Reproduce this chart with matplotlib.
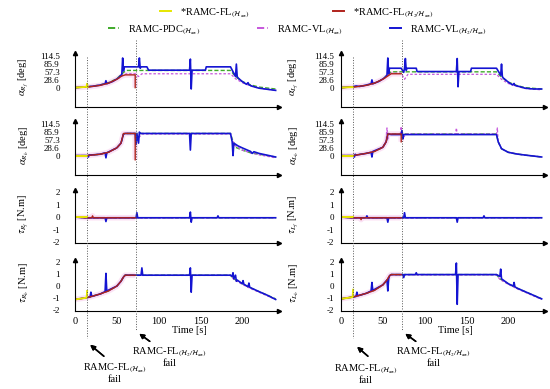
import numpy as np
import matplotlib
matplotlib.use("Agg")
import matplotlib.pyplot as plt
import matplotlib.transforms as mtransforms
from matplotlib.lines import Line2D

plt.rcParams['font.family'] = ['Liberation Serif', 'DejaVu Serif']
plt.rcParams['mathtext.fontset'] = 'stix'

#---failure instants [s]
t_fail_hinf = 14
t_fail_h2 = 73

#---alpha_Rf [deg]
t_arf_s = [0, 14, 20, 30, 40, 50, 58, 62, 72, 76, 80, 186, 192, 200, 210, 220, 240]
arf_pdc = [0, 2, 5, 10, 18, 32, 55, 62, 62, 62, 62, 62, 40, 22, 10, 2, -5]
arf_vl = [0, 2, 5, 10, 16, 30, 46, 50, 50, 40, 50, 50, 32, 18, 6, -2, -10]
t_arf_b = [0, 14, 18, 22, 30, 36, 37, 38, 45, 52, 56, 57, 58, 59, 76, 77, 78, 79, 86, 88,
           137, 138, 139, 140, 156, 157, 186, 192, 193, 194, 195, 200, 205, 207, 208, 212, 220, 240]
arf_vlh2 = [0, 3, 4, 5, 9, 14, 25, 14, 22, 35, 48, 107, 60, 75, 75, 107, 70, 75, 75, 63,
            63, 103, -5, 63, 63, 75, 75, 40, 85, 40, 35, 22, 12, 18, 10, 5, -2, -10]
t_arf_r = [0, 14, 20, 30, 40, 50, 56, 60, 72, 72]
arf_flh2 = [0, 2, 4, 8, 16, 30, 42, 46, 46, 0]
t_arf_y = [0, 5, 10, 14, 14.5, 15]
arf_flhinf = [0, 1, 2, 3, 14, 3]

#---alpha_Rb [deg]
t_arb_s = [0, 14, 20, 30, 40, 50, 55, 58, 60, 72, 75, 80, 186, 188, 192, 200, 210, 220, 240]
arb_pdc = [0, 0, 2, 5, 12, 28, 45, 78, 80, 80, 80, 80, 80, 60, 30, 20, 10, 5, -5]
arb_vl = [0, 0, 2, 5, 12, 28, 45, 78, 80, 80, 60, 78, 78, 55, 35, 20, 10, 3, -8]
t_arb_b = [0, 14, 16, 17, 18, 30, 36, 37, 38, 50, 55, 58, 60, 72, 73, 74, 76, 77, 78, 137,
           138, 139, 186, 188, 189, 190, 195, 200, 210, 212, 214, 220, 240]
arb_vlh2 = [0, 0, -5, 3, 2, 5, 10, -8, 10, 28, 45, 78, 80, 80, 40, 80, 45, 85, 80, 80,
            20, 80, 80, 50, 0, 45, 35, 28, 15, 8, 14, 8, -5]
t_arb_r = [0, 14, 20, 30, 40, 50, 55, 58, 72, 72]
arb_flh2 = [0, 0, 2, 5, 12, 28, 45, 80, 80, -15]
t_arb_y = [0, 14]
arb_flhinf = [-3, -3]

#---tau_Rf [N.m]
t_trf_s = [0, 14, 72, 186, 240]
trf_pdc = [0, -0.05, -0.05, -0.05, -0.05]
trf_vl = [0, -0.08, -0.08, -0.05, -0.05]
t_trf_b = [0, 14, 36, 37, 38, 73, 74, 75, 137, 138, 139, 140, 170, 171, 172, 240]
trf_vlh2 = [0, -0.05, -0.05, -0.35, -0.05, -0.05, 0.35, -0.05, -0.05, 0.4, -0.4, -0.05,
            -0.05, 0.1, -0.05, -0.05]
t_trf_r = [0, 14, 20, 21, 22, 72]
trf_flh2 = [0, -0.05, -0.05, 0.1, -0.05, -0.05]
t_trf_y = [0, 14]
trf_flhinf = [0, 0]

#---tau_Rb [N.m]
t_trb_s = [0, 14, 20, 30, 40, 50, 55, 58, 60, 186, 190, 200, 210, 220, 230, 240]
trb_pdc = [-1.1, -0.95, -0.85, -0.65, -0.4, 0, 0.4, 0.75, 0.9, 0.9, 0.6, 0.2, -0.15, -0.45, -0.75, -1.05]
trb_vl = [-1.1, -0.95, -0.85, -0.65, -0.4, 0, 0.4, 0.75, 0.88, 0.88, 0.55, 0.15, -0.2, -0.5, -0.8, -1.1]
t_trb_b = [0, 14, 18, 19, 20, 30, 36, 37, 38, 50, 55, 58, 60, 79, 80, 81, 137, 138, 139, 140,
           186, 188, 189, 190, 192, 193, 194, 200, 201, 202, 207, 208, 209, 220, 230, 240]
trb_vlh2 = [-1.1, -0.95, -0.9, -0.5, -0.85, -0.65, -0.45, 1.05, -0.4, 0, 0.4, 0.75, 0.9, 0.9,
            1.5, 0.9, 0.9, 1.5, -0.5, 0.9, 0.9, 0.8, 1.1, 0.6, 0.9, 0.4, 0.5, 0.2, 0.45, 0.15,
            -0.05, 0.25, -0.1, -0.45, -0.75, -1.1]
t_trb_r = [0, 14, 20, 30, 40, 50, 55, 58, 60, 72]
trb_flh2 = [-1.1, -0.95, -0.85, -0.65, -0.4, 0, 0.4, 0.75, 0.9, 0.9]
t_trb_y = [0, 5, 10, 14, 14.5]
trb_flhinf = [-1.1, -1.05, -1.0, -0.95, -0.4]

#---alpha_Lf [deg]
t_alf_s = [0, 14, 20, 30, 40, 50, 56, 60, 72, 76, 80, 186, 192, 200, 210, 220, 240]
alf_pdc = [0, 2, 4, 8, 16, 30, 48, 57, 57, 57, 57, 57, 38, 20, 8, 0, -5]
alf_vl = [0, 2, 4, 8, 16, 30, 45, 52, 52, 30, 48, 48, 30, 15, 5, -3, -8]
t_alf_b = [0, 14, 18, 22, 30, 36, 37, 38, 45, 52, 55, 56, 57, 58, 72, 75, 76, 77, 78, 79,
           90, 91, 138, 139, 140, 141, 155, 156, 186, 191, 192, 193, 194, 200, 205, 207, 208,
           212, 220, 230, 240]
alf_vlh2 = [0, 3, 6, 4, 9, 14, 28, 14, 22, 35, 45, 107, 50, 70, 70, 55, 70, 105, 62, 70,
            70, 58, 58, 105, 3, 58, 58, 70, 70, 45, 85, 40, 35, 20, 10, 15, 8, 5, -2, -5, -5]
t_alf_r = [0, 14, 20, 30, 40, 50, 56, 60, 72]
alf_flh2 = [0, 2, 4, 8, 16, 30, 42, 50, 50]
t_alf_y = [0, 14]
alf_flhinf = [0, 2]

#---alpha_Lb [deg]
t_alb_s = [0, 14, 20, 30, 40, 50, 54, 56, 60, 186, 188, 192, 200, 210, 220, 240]
alb_pdc = [0, 0, 3, 8, 15, 30, 50, 80, 78, 78, 50, 25, 12, 6, 2, -5]
t_alb_m = [0, 14, 20, 30, 40, 50, 54, 55, 56, 57, 60, 71, 72, 73, 78, 137, 138, 139, 186,
           187, 188, 192, 200, 210, 220, 240]
alb_vl = [0, 0, 3, 8, 15, 30, 50, 100, 60, 80, 78, 78, 105, 60, 78, 78, 100, 78, 78,
          100, 50, 25, 12, 6, 2, -5]
t_alb_b = [0, 14, 16, 17, 18, 30, 36, 37, 38, 50, 54, 56, 60, 72, 73, 74, 75, 186, 188, 192,
           200, 210, 220, 240]
alb_vlh2 = [0, 0, -5, 5, 2, 8, 12, -5, 15, 30, 50, 78, 76, 76, 90, 60, 76, 76, 50, 25,
            12, 6, 2, -5]
t_alb_r = [0, 14, 20, 30, 40, 50, 54, 56, 72, 72]
alb_flh2 = [0, 0, 3, 8, 15, 30, 50, 78, 78, 50]
t_alb_y = [0, 14]
alb_flhinf = [-3, -3]

#---tau_Lf [N.m]
t_tlf_s = [0, 14, 72, 186, 240]
tlf_pdc = [0, -0.05, -0.05, -0.05, -0.05]
tlf_vl = [0, -0.08, -0.08, -0.05, -0.05]
t_tlf_b = [0, 14, 30, 31, 32, 55, 56, 57, 75, 76, 77, 138, 139, 140, 170, 171, 172, 240]
tlf_vlh2 = [0, -0.05, -0.05, 0.1, -0.05, -0.05, -0.4, -0.05, -0.05, 0.35, -0.05, -0.05,
            -0.4, -0.05, -0.05, 0.1, -0.05, -0.05]
t_tlf_r = [0, 14, 23, 24, 25, 72]
tlf_flh2 = [0, -0.05, -0.05, -0.2, -0.05, -0.05]
t_tlf_y = [0, 14]
tlf_flhinf = [0, 0]

#---tau_Lb [N.m]
t_tlb_s = [0, 14, 20, 30, 40, 50, 55, 58, 60, 186, 190, 200, 210, 220, 230, 240]
tlb_pdc = [-1.05, -0.9, -0.8, -0.6, -0.35, 0.1, 0.5, 0.85, 0.95, 0.95, 0.6, 0.2, -0.15, -0.45, -0.75, -1.05]
tlb_vl = [-1.05, -0.9, -0.8, -0.6, -0.35, 0.1, 0.5, 0.85, 0.92, 0.92, 0.55, 0.15, -0.2, -0.5, -0.8, -1.1]
t_tlb_b = [0, 14, 18, 19, 20, 30, 36, 37, 38, 50, 55, 56, 57, 58, 60, 74, 75, 76, 89, 90,
           91, 137, 138, 139, 140, 186, 190, 191, 192, 200, 206, 207, 208, 210, 220, 230, 240]
tlb_vlh2 = [-1.05, -0.9, -0.85, -0.5, -0.8, -0.6, -0.4, 0.3, -0.35, 0.1, 0.5, -0.4, 0.6, 0.85,
            0.95, 0.95, 0.7, 0.95, 0.95, 1.1, 0.95, 0.95, 1.9, -1.5, 0.95, 0.95, 0.8, 1.4, 0.6,
            0.2, 0.0, 0.3, -0.05, -0.15, -0.45, -0.75, -1.05]
t_tlb_r = [0, 14, 20, 30, 40, 50, 55, 58, 60, 72]
tlb_flh2 = [-1.05, -0.9, -0.8, -0.6, -0.35, 0.1, 0.5, 0.85, 0.95, 0.95]
t_tlb_y = [0, 5, 10, 14, 14.5]
tlb_flhinf = [-1.05, -1.0, -0.95, -0.9, -0.3]

ang_ticks = [0, 28.6, 57.3, 85.9, 114.5]
tau_ticks = [-2, -1, 0, 1, 2]
time_ticks = [0, 50, 100, 150, 200]

#---styles
c_yel = '#e6e600'
c_red = '#b0231c'
c_grn = '#3faa2a'
c_mag = '#c656dc'
c_blu = '#1414d2'

W, H = 550., 389.
fig = plt.figure(figsize=(W / 100, H / 100), dpi=100)


def add_ax(x0, top, w, bottom):
    return fig.add_axes([x0 / W, 1 - bottom / H, w / W, (bottom - top) / H])


col_x = [75, 341]
rows = [(53, 107), (121, 175), (190, 243), (260, 311)]
axes = [[add_ax(cx, r[0], 204, r[1]) for r in rows] for cx in col_x]

ylabels = [[r'$\alpha_{R_f}$ [deg]', r'$\alpha_{R_b}$ [deg]', r'$\tau_{R_f}$ [N.m]', r'$\tau_{R_b}$ [N.m]'],
           [r'$\alpha_{L_f}$ [deg]', r'$\alpha_{L_b}$ [deg]', r'$\tau_{L_f}$ [N.m]', r'$\tau_{L_b}$ [N.m]']]

data = [
    [(t_arf_s, arf_pdc, t_arf_s, arf_vl, t_arf_b, arf_vlh2, t_arf_r, arf_flh2, t_arf_y, arf_flhinf),
     (t_arb_s, arb_pdc, t_arb_s, arb_vl, t_arb_b, arb_vlh2, t_arb_r, arb_flh2, t_arb_y, arb_flhinf),
     (t_trf_s, trf_pdc, t_trf_s, trf_vl, t_trf_b, trf_vlh2, t_trf_r, trf_flh2, t_trf_y, trf_flhinf),
     (t_trb_s, trb_pdc, t_trb_s, trb_vl, t_trb_b, trb_vlh2, t_trb_r, trb_flh2, t_trb_y, trb_flhinf)],
    [(t_alf_s, alf_pdc, t_alf_s, alf_vl, t_alf_b, alf_vlh2, t_alf_r, alf_flh2, t_alf_y, alf_flhinf),
     (t_alb_s, alb_pdc, t_alb_m, alb_vl, t_alb_b, alb_vlh2, t_alb_r, alb_flh2, t_alb_y, alb_flhinf),
     (t_tlf_s, tlf_pdc, t_tlf_s, tlf_vl, t_tlf_b, tlf_vlh2, t_tlf_r, tlf_flh2, t_tlf_y, tlf_flhinf),
     (t_tlb_s, tlb_pdc, t_tlb_s, tlb_vl, t_tlb_b, tlb_vlh2, t_tlb_r, tlb_flh2, t_tlb_y, tlb_flhinf)],
]

for ci in range(2):
    for ri in range(4):
        ax = axes[ci][ri]
        tg, yg, tm, ym, tb, yb, tr, yr, ty, yy = data[ci][ri]
        ax.plot(tr, yr, color='#f7b8e6', lw=4, alpha=0.4, solid_capstyle='butt')
        ax.plot(tg, yg, color=c_grn, lw=1.0, dashes=(3, 1.5))
        ax.plot(tm, ym, color=c_mag, lw=0.9, dashes=(2, 1.5))
        ax.plot(tb, yb, color=c_blu, lw=1.2)
        ax.plot(tr, yr, color=c_red, lw=1.0)
        ax.plot(ty, yy, color=c_yel, lw=1.4)

        ax.set_xlim(0, 244)
        if ri < 2:
            ax.set_ylim(-70, 125)
            ax.set_yticks(ang_ticks)
            ax.set_yticklabels(['0', '28.6', '57.3', '85.9', '114.5'])
        else:
            ax.set_ylim(-2.05, 2.15)
            ax.set_yticks(tau_ticks)
            ax.set_yticklabels(['-2', '-1', '0', '1', '2'])
        for s in ['top', 'right']:
            ax.spines[s].set_visible(False)
        ax.spines['left'].set_linewidth(0.8)
        ax.spines['bottom'].set_linewidth(0.8)
        ax.plot(1, 0, '>k', ms=3, transform=ax.transAxes, clip_on=False)
        ax.plot(0, 1, '^k', ms=3, transform=ax.transAxes, clip_on=False)
        ax.tick_params(axis='y', length=0, pad=(11 if ci == 0 else 5), labelsize=6.5)
        if ri == 3:
            ax.set_xticks(time_ticks)
            ax.tick_params(axis='x', length=0, pad=4, labelsize=7.5)
            ax.set_xlabel('Time [s]', fontsize=7.5)
            ax.xaxis.set_label_coords(0.56, -0.3)
        else:
            ax.set_xticks([])
        ax.set_ylabel(ylabels[ci][ri], fontsize=7.5)
        ax.yaxis.set_label_coords(-44 / 204 if ci == 0 else -40 / 204, 0.55)

    #---failure markers spanning the column
    trans = mtransforms.blended_transform_factory(axes[ci][3].transData, fig.transFigure)
    fig.add_artist(Line2D([t_fail_hinf, t_fail_hinf], [1 - 57 / H, 1 - 338 / H], transform=trans,
                          ls=':', lw=0.7, color='#555555'))
    fig.add_artist(Line2D([t_fail_h2, t_fail_h2], [1 - 40 / H, 1 - 330 / H], transform=trans,
                          ls=':', lw=0.7, color='#555555'))

#---failure annotations
ann = [((88, 343), (106, 358), (115, 373), r'RAMC-FL$_{(\mathcal{H}_\infty)}$' + '\nfail'),
       ((137, 332), (152, 343), (170, 357), r'RAMC-FL$_{(\mathcal{H}_2/\mathcal{H}_\infty)}$' + '\nfail'),
       ((355, 345), (370, 358), (366, 374), r'RAMC-FL$_{(\mathcal{H}_\infty)}$' + '\nfail'),
       ((403, 332), (418, 343), (434, 357), r'RAMC-FL$_{(\mathcal{H}_2/\mathcal{H}_\infty)}$' + '\nfail')]
for head, tail, txt_xy, txt in ann:
    fig.add_artist(plt.annotate('', xy=(head[0] / W, 1 - head[1] / H), xytext=(tail[0] / W, 1 - tail[1] / H),
                                xycoords='figure fraction', textcoords='figure fraction',
                                arrowprops=dict(arrowstyle='-|>', color='k', lw=1.1, mutation_scale=7)))
    fig.text(txt_xy[0] / W, 1 - txt_xy[1] / H, txt, ha='center', va='center', fontsize=7.5,
             linespacing=1.0)

#---legend, one entry per slot
leg_items = [(160, 13, c_yel, '-', r'*RAMC-FL$_{(\mathcal{H}_\infty)}$'),
             (333, 13, c_red, '-', r'*RAMC-FL$_{(\mathcal{H}_2/\mathcal{H}_\infty)}$'),
             (108, 30, c_grn, '--', r'RAMC-PDC$_{(\mathcal{H}_\infty)}$'),
             (257, 30, c_mag, '--', r'RAMC-VL$_{(\mathcal{H}_\infty)}$'),
             (390, 30, c_blu, '-', r'RAMC-VL$_{(\mathcal{H}_2/\mathcal{H}_\infty)}$')]
for x, y, c, ls, lab in leg_items:
    h = Line2D([], [], color=c, ls=ls, lw=1.4)
    fig.legend([h], [lab], loc='center left', bbox_to_anchor=(x / W, 1 - y / H), frameon=False,
               borderpad=0, borderaxespad=0, handlelength=1.1, handletextpad=0.8, fontsize=7.5)

plt.savefig('out.png', dpi=100)
